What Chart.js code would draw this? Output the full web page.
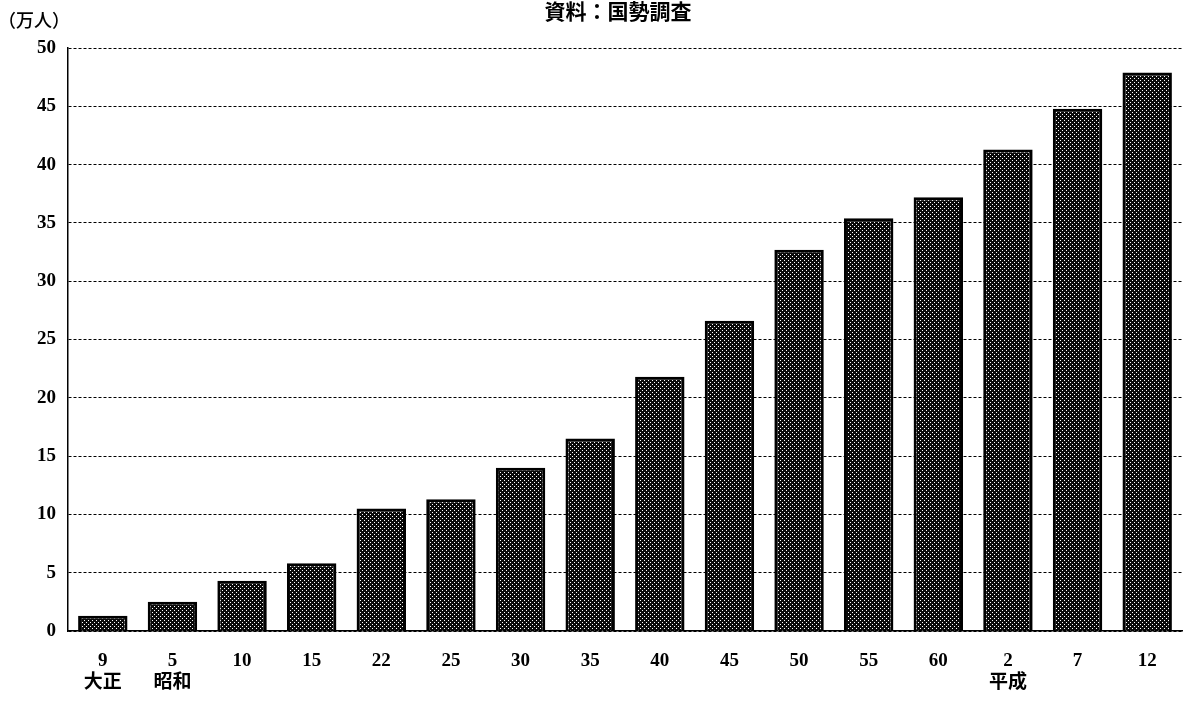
<!DOCTYPE html>
<html><head><meta charset="utf-8">
<script src="https://cdn.jsdelivr.net/npm/chart.js@4.4.1/dist/chart.umd.min.js"></script>
<style>html,body{margin:0;padding:0;background:#fff;}#wrap{width:1191px;height:702px;}</style>
</head><body><div id="wrap"><canvas id="c" width="1191" height="702"></canvas></div>
<script>
const categories = [['9','大正'],['5','昭和'],'10','15','22','25','30','35','40','45','50','55','60',['2','平成'],'7','12'];
const population = [1.3, 2.5, 4.3, 5.8, 10.5, 11.3, 14.0, 16.5, 21.8, 26.6, 32.7, 35.4, 37.2, 41.3, 44.8, 47.9];
const yTicks = [0,5,10,15,20,25,30,35,40,45,50];
const titleText = '資料：国勢調査';
const unitText = '（万人）';

function makePattern(){
  const p = document.createElement('canvas');
  p.width = 4; p.height = 4;
  const g = p.getContext('2d');
  g.fillStyle = '#0a0a0a'; g.fillRect(0,0,4,4);
  g.fillStyle = '#ffffff';
  g.fillRect(0,0,1,1);
  g.fillRect(2,2,1,1);
  return document.getElementById('c').getContext('2d').createPattern(p,'repeat');
}

const textPlugin = {
  id:'texts',
  afterDraw(chart){
    const ctx = chart.ctx;
    ctx.save();
    ctx.fillStyle = '#000';
    ctx.textBaseline = 'middle';
    ctx.font = 'bold 21px "Noto Sans CJK JP"';
    ctx.textAlign = 'center';
    ctx.fillText(titleText, 618, 11);
    ctx.font = '500 18px "Noto Sans CJK JP"';
    ctx.textAlign = 'left';
    ctx.fillText(unitText, -2, 20);
    ctx.restore();
  }
};

new Chart(document.getElementById('c'), {
  type:'bar',
  data:{labels:categories, datasets:[{data:population, backgroundColor:makePattern(), borderColor:'#000', borderWidth:3, barPercentage:0.71, categoryPercentage:1.0}]},
  options:{
    responsive:false, animation:false,
    layout:{padding:{top:48, right:9, left:0, bottom:0}},
    plugins:{legend:{display:false}, tooltip:{enabled:false}, title:{display:false}},
    scales:{
      x:{
        grid:{display:false, drawTicks:false},
        border:{display:true, color:'#000', width:1.5},
        ticks:{color:'#000', font:{family:'"Liberation Serif", "Noto Sans CJK JP"', size:19, weight:'bold', lineHeight:1.15}, padding:19, maxRotation:0, autoSkip:false},
        afterFit(s){ s.height = 702 - 631; }
      },
      y:{
        min:0, max:50,
        afterBuildTicks(s){ s.ticks = yTicks.map(v=>({value:v})); },
        grid:{color:'#000', lineWidth:1, drawTicks:false},
        border:{display:true, color:'#000', width:1.5, dash:[3,2]},
        ticks:{color:'#000', font:{family:'"Liberation Serif"', size:19, weight:'bold'}, padding:12},
        afterFit(s){ s.width = 68; }
      }
    }
  },
  plugins:[textPlugin]
});
</script>
</body></html>
